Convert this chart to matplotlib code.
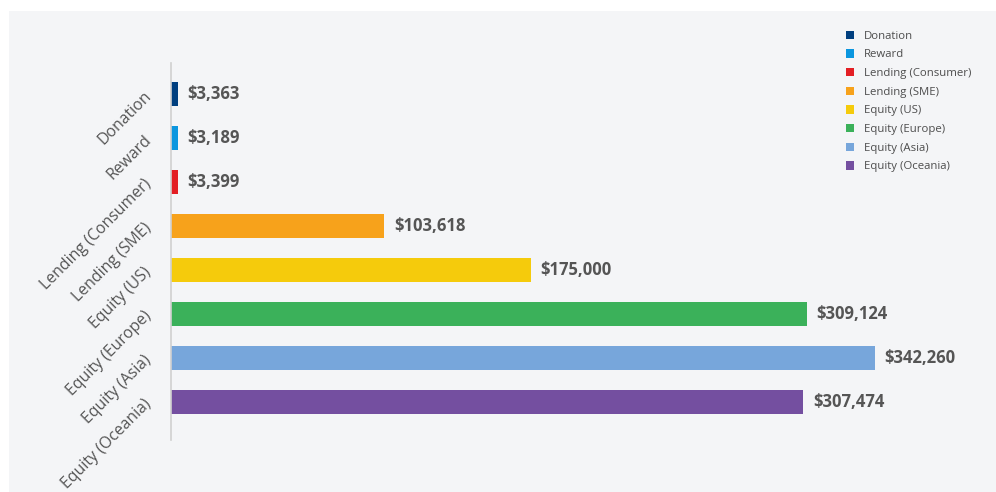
import matplotlib
matplotlib.use('Agg')
import matplotlib.pyplot as plt
from matplotlib.patches import Rectangle, Patch

categories = ['Donation', 'Reward', 'Lending (Consumer)', 'Lending (SME)',
              'Equity (US)', 'Equity (Europe)', 'Equity (Asia)', 'Equity (Oceania)']
values = [3363, 3189, 3399, 103618, 175000, 309124, 342260, 307474]
value_labels = ['$3,363', '$3,189', '$3,399', '$103,618', '$175,000',
                '$309,124', '$342,260', '$307,474']
colors = ['#003f7f', '#0b96df', '#e31e24', '#f7a21b', '#f5cb0c',
          '#3bb15a', '#77a6db', '#744fa0']

plt.rcParams['font.family'] = ['Open Sans', 'DejaVu Sans']
txt = '#555555'

fig = plt.figure(figsize=(9.96, 4.92), dpi=100)
fig.patch.set_facecolor('white')
# grey panel behind the chart
fig.add_artist(Rectangle((9 / 996, 0), 1, 1 - 11 / 492, transform=fig.transFigure,
                         facecolor='#f4f5f7', edgecolor='none', zorder=-10))

W, H = 996, 492
left, right = 171, 996
top, bottom = 63, 440
ax = fig.add_axes([left / W, 1 - bottom / H, (right - left) / W, (bottom - top) / H])
ax.set_facecolor('none')

pos = list(range(len(categories)))
ax.barh(pos, values, height=0.53, color=colors, edgecolor='none')
ax.set_xlim(0, (right - left) / 704 * 342260)
ax.set_ylim(7.86, -0.7)

for p, v, lab in zip(pos, values, value_labels):
    ax.annotate(lab, (v, p), xytext=(7, 0), textcoords='offset points',
                va='center', ha='left', fontsize=12, fontweight='bold', color=txt)

ax.set_yticks(pos)
ax.set_yticklabels(categories, rotation=45, ha='right', va='center',
                   rotation_mode='anchor', fontsize=11.4, color=txt)
ax.tick_params(axis='y', length=0, pad=16)
ax.set_xticks([])
for s in ['top', 'right', 'bottom']:
    ax.spines[s].set_visible(False)
ax.spines['left'].set_color('#d0d0d0')
ax.spines['left'].set_linewidth(1.2)

handles = [Patch(facecolor=c, edgecolor='none') for c in colors]
fig.legend(handles, categories, loc='upper left', bbox_to_anchor=(841 / W, 1 - 26 / H),
           frameon=False, fontsize=8.2, labelcolor='#4d4d4d', handlelength=0.75,
           handleheight=0.75, handletextpad=0.9, labelspacing=0.66, borderaxespad=0)

fig.savefig('out.png', dpi=100)
